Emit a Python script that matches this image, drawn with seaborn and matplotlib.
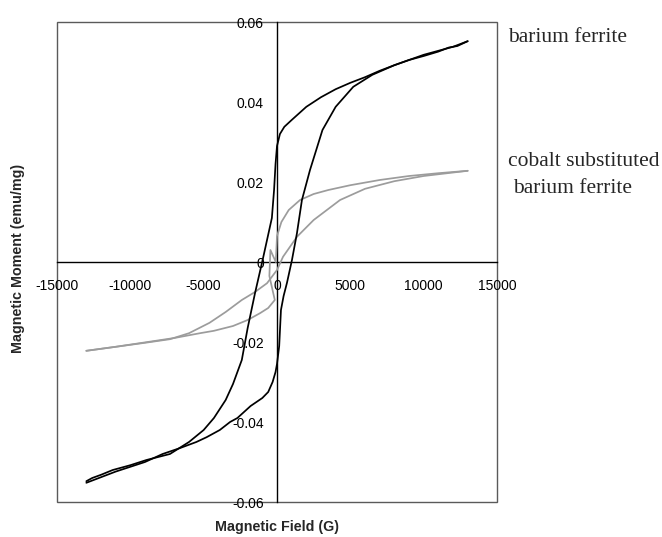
import matplotlib
matplotlib.use("Agg")
import matplotlib.pyplot as plt
import seaborn as sns
import pandas as pd
from matplotlib.patches import Rectangle
from matplotlib.ticker import FixedLocator, FixedFormatter

# ---------------- data ----------------
# barium ferrite, field decreasing from +13000 G
ba_desc_H = [13000, 12300, 11700, 11000, 10000, 9000, 8000, 7000, 6000, 5000, 4000, 3000,
             2000, 1000, 500, 200, 0, -100, -200, -350, -680, -950, -1200, -1500, -2000,
             -2400, -3000, -3500, -4300, -5000, -6000, -7300, -8900, -10000, -11200,
             -12000, -12600, -13000]
ba_desc_M = [0.0552, 0.0540, 0.0536, 0.0526, 0.0515, 0.0505, 0.0492, 0.0478, 0.0462, 0.0448,
             0.0432, 0.0412, 0.0388, 0.0355, 0.0338, 0.0320, 0.0290, 0.0245, 0.0180, 0.0110,
             0.0055, 0.0010, -0.0030, -0.0078, -0.0165, -0.0245, -0.0305, -0.0345, -0.0390,
             -0.0420, -0.0450, -0.0480, -0.0495, -0.0508, -0.0520, -0.0532, -0.0540, -0.0548]
# barium ferrite, field increasing from -13000 G
ba_asc_H = [-13000, -12000, -11000, -10000, -9000, -7800, -6600, -5500, -4800, -3900, -3200,
            -2700, -1800, -1000, -600, -300, -100, 0, 150, 270, 450, 680, 1020, 1360, 1700,
            2250, 3100, 4000, 5200, 6500, 8000, 9000, 10000, 11000, 12000, 13000]
ba_asc_M = [-0.0552, -0.0538, -0.0524, -0.0512, -0.0500, -0.0480, -0.0465, -0.0450, -0.0438,
            -0.0420, -0.0400, -0.0390, -0.0360, -0.0340, -0.0325, -0.0300, -0.0275, -0.0255,
            -0.0210, -0.0120, -0.0085, -0.0052, 0.0005, 0.0072, 0.0155, 0.0230, 0.0330,
            0.0388, 0.0438, 0.0468, 0.0492, 0.0505, 0.0518, 0.0528, 0.0538, 0.0552]
# cobalt substituted barium ferrite, field decreasing
co_desc_H = [13000, 11000, 9000, 7000, 5000, 3500, 2500, 1570, 800, 300, 0, -80, -450, -520,
             -150, -600, -1160, -2000, -3000, -4300, -5250, -7000, -9000, -11000, -13000]
co_desc_M = [0.0228, 0.0222, 0.0215, 0.0205, 0.0192, 0.0180, 0.0170, 0.0155, 0.0130, 0.0100,
             0.0065, 0.0000, 0.0030, -0.0035, -0.0095, -0.0115, -0.0128, -0.0145, -0.0160,
             -0.0172, -0.0178, -0.0190, -0.0201, -0.0212, -0.0222]
# cobalt substituted barium ferrite, field increasing
co_asc_H = [-13000, -11000, -9000, -7300, -6000, -4600, -3500, -2400, -1500, -680, 0, 410,
            1360, 2500, 4300, 6000, 8000, 10000, 13000]
co_asc_M = [-0.0222, -0.0212, -0.0202, -0.0193, -0.0178, -0.0152, -0.0125, -0.0095, -0.0075,
            -0.0053, -0.0020, 0.0013, 0.0063, 0.0105, 0.0155, 0.0183, 0.0202, 0.0215, 0.0228]

x_ticks = [-15000, -10000, -5000, 0, 5000, 10000, 15000]
x_tick_labels = ["-15000", "-10000", "-5000", "0", "5000", "10000", "15000"]
y_ticks = [-0.06, -0.04, -0.02, 0, 0.02, 0.04, 0.06]
y_tick_labels = ["-0.06", "-0.04", "-0.02", "0", "0.02", "0.04", "0.06"]

# ---------------- figure ----------------
sns.set_theme(style="white")
plt.rcParams["font.family"] = ["Liberation Sans", "DejaVu Sans"]

fig = plt.figure(figsize=(6.62, 5.37), dpi=100)
W, H = 662, 537
ax = fig.add_axes([57 / W, (H - 502) / H, 440 / W, 480 / H])

def seg(hs, ms):
    return pd.DataFrame({"H": hs, "M": ms})

GRAY = "#9c9c9c"
LW = 1.25
sns.lineplot(data=seg(co_desc_H, co_desc_M), x="H", y="M", sort=False, estimator=None,
             color=GRAY, lw=LW, ax=ax)
sns.lineplot(data=seg(co_asc_H, co_asc_M), x="H", y="M", sort=False, estimator=None,
             color=GRAY, lw=LW, ax=ax)
sns.lineplot(data=seg(ba_desc_H, ba_desc_M), x="H", y="M", sort=False, estimator=None,
             color="black", lw=LW, ax=ax)
sns.lineplot(data=seg(ba_asc_H, ba_asc_M), x="H", y="M", sort=False, estimator=None,
             color="black", lw=LW, ax=ax)

ax.set_xlim(-15000, 15000)
ax.set_ylim(-0.06, 0.06)
ax.set_xlabel("")
ax.set_ylabel("")

for s in ["top", "right"]:
    ax.spines[s].set_visible(False)
for s in ["left", "bottom"]:
    ax.spines[s].set_position(("data", 0))
    ax.spines[s].set_color("black")
    ax.spines[s].set_linewidth(1.0)
    ax.spines[s].set_zorder(1)

ax.add_patch(Rectangle((0, 0), 1, 1, transform=ax.transAxes, fill=False,
                       ec="#5a5a5a", lw=1.0, clip_on=False, zorder=0.5))

ax.xaxis.set_major_locator(FixedLocator(x_ticks))
ax.xaxis.set_major_formatter(FixedFormatter(x_tick_labels))
ax.yaxis.set_major_locator(FixedLocator(y_ticks))
ax.yaxis.set_major_formatter(FixedFormatter(y_tick_labels))
ax.tick_params(axis="both", which="major", direction="inout", length=7, width=1,
               color="black", labelsize=10, labelcolor="black")
ax.tick_params(axis="x", pad=8.5)
ax.tick_params(axis="y", pad=6)
ax.grid(False)
ax.set_facecolor("white")

# axis titles
fig.text(277 / W, 1 - 527 / H, "Magnetic Field (G)", ha="center", va="center",
         fontsize=10.3, fontweight="bold")
fig.text(18 / W, 1 - 258 / H, "Magnetic Moment (emu/mg)", ha="center", va="center",
         rotation=90, fontsize=10.3, fontweight="bold")

# series annotations
fig.text(508 / W, 1 - 38 / H, "barium ferrite", ha="left", va="center",
         family="Liberation Serif", fontsize=15.5)
fig.text(508 / W, 1 - 162 / H, "cobalt substituted", ha="left", va="center",
         family="Liberation Serif", fontsize=15.5)
fig.text(513 / W, 1 - 188 / H, "barium ferrite", ha="left", va="center",
         family="Liberation Serif", fontsize=15.5)

fig.savefig("out.png", dpi=100, facecolor="white")
